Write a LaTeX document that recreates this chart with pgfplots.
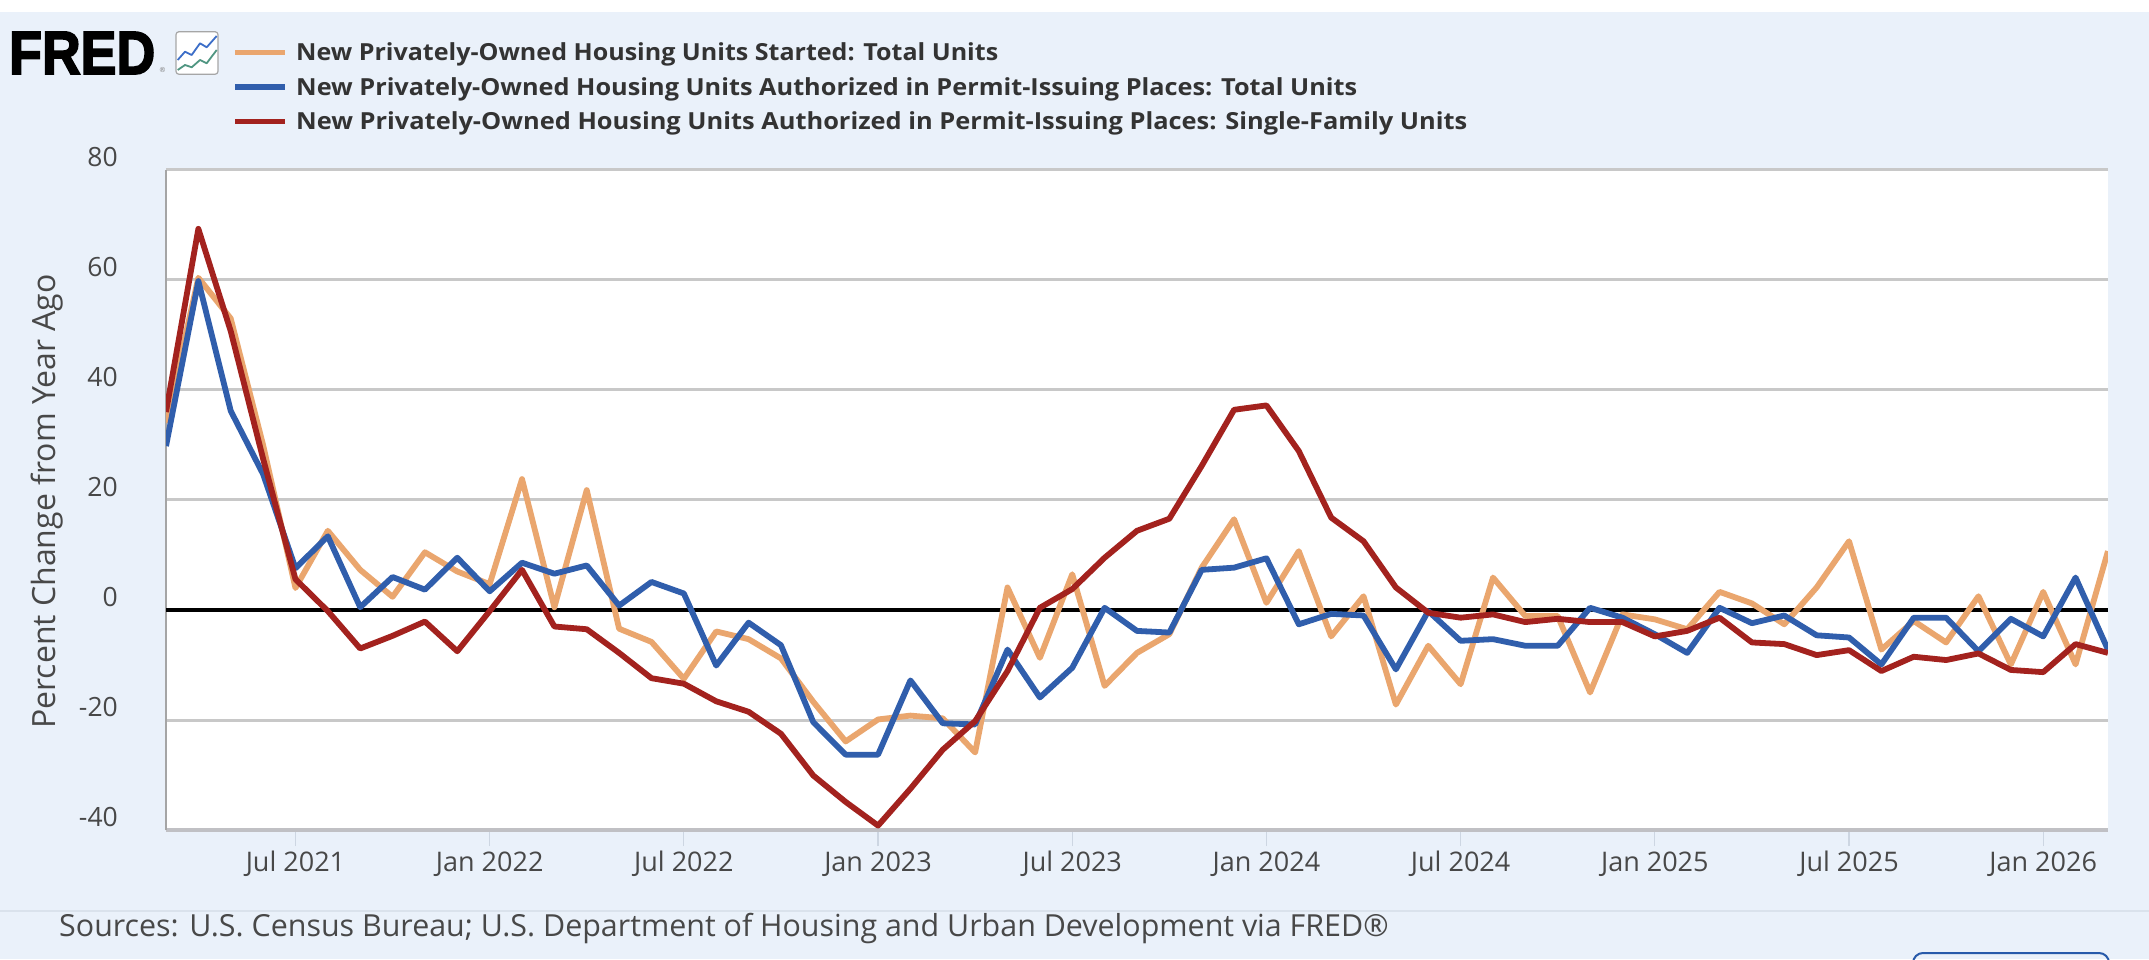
\documentclass[border=0pt]{standalone}
\usepackage{fontspec}
\setmainfont{Open Sans}
\newfontfamily\fredfont{Liberation Sans}[UprightFeatures={FakeBold=3},BoldFeatures={FakeBold=3}]
\usepackage{graphicx}
\usepackage{pgfplots}
\usepackage{pgfplotstable}
\pgfplotsset{compat=1.18}

\definecolor{bgblue}{RGB}{234,241,250}
\definecolor{sepcol}{RGB}{218,226,236}
\definecolor{gridgray}{RGB}{200,200,200}
\definecolor{axgray}{RGB}{192,192,196}
\definecolor{leftgray}{RGB}{165,165,165}
\definecolor{tickcol}{RGB}{205,214,226}
\definecolor{labcol}{RGB}{72,72,72}
\definecolor{legcol}{RGB}{51,51,51}
\definecolor{cstarts}{RGB}{234,166,110}
\definecolor{cpermits}{RGB}{48,94,172}
\definecolor{csingle}{RGB}{163,34,30}
\definecolor{iconblue}{RGB}{60,110,200}
\definecolor{icongreen}{RGB}{80,150,130}
\definecolor{btnblue}{RGB}{40,90,170}

% month index: 0 = Mar 2021 ... 60 = Mar 2026
\pgfplotstableread{
m starts permits single
0 34.0 29.8 36.0
1 60.4 59.8 69.3
2 53.0 36.2 50.7
3 30.0 24.7 27.5
4 4.0 7.6 5.6
5 14.4 13.4 -0.2
6 7.3 0.5 -7.0
7 2.4 6.0 -4.7
8 10.5 3.7 -2.1
9 7.0 9.5 -7.5
10 4.7 3.4 -0.2
11 23.8 8.6 7.3
12 0.5 6.6 -3.0
13 21.8 8.1 -3.5
14 -3.4 0.8 -7.8
15 -5.8 5.1 -12.4
16 -12.5 3.0 -13.4
17 -3.9 -10.1 -16.6
18 -5.3 -2.3 -18.5
19 -8.8 -6.4 -22.5
20 -16.7 -20.4 -30.1
21 -23.9 -26.3 -34.9
22 -19.9 -26.3 -39.2
23 -19.2 -12.8 -32.5
24 -19.7 -20.6 -25.4
25 -25.9 -20.8 -20.2
26 4.1 -7.2 -11.1
27 -8.7 -15.9 0.4
28 6.5 -10.5 3.8
29 -13.8 0.4 9.5
30 -7.8 -3.8 14.4
31 -4.4 -4.1 16.6
32 7.7 7.3 26.2
33 16.5 7.7 36.4
34 1.3 9.4 37.2
35 10.7 -2.6 28.9
36 -4.8 -0.7 16.8
37 2.5 -1.0 12.5
38 -17.2 -10.8 4.1
39 -6.5 -0.2 -0.5
40 -13.5 -5.6 -1.4
41 5.9 -5.3 -0.8
42 -1.1 -6.5 -2.2
43 -1.1 -6.5 -1.6
44 -15.0 0.4 -2.2
45 -0.8 -1.4 -2.2
46 -1.7 -4.4 -4.8
47 -3.5 -7.8 -3.8
48 3.3 0.4 -1.4
49 1.2 -2.4 -5.9
50 -2.6 -1.0 -6.2
51 4.1 -4.6 -8.2
52 12.5 -5.0 -7.3
53 -7.2 -9.9 -11.1
54 -2.0 -1.4 -8.5
55 -5.9 -1.4 -9.1
56 2.5 -7.5 -7.9
57 -9.9 -1.6 -10.9
58 3.3 -4.8 -11.3
59 -9.9 5.9 -6.2
60 10.7 -7.2 -7.8
}\housing

\begin{document}
\begin{tikzpicture}[x=1pt,y=1pt]
% background
\fill[bgblue] (0,0) rectangle (2149,947);
\fill[white] (0,947) rectangle (2149,959);
\draw[sepcol, line width=1.5pt] (0,48) -- (2149,48);
% bottom-right button (partially visible)
\draw[btnblue, line width=2pt, rounded corners=10pt] (1913,-30) rectangle (2109,6);

% FRED logo
\node[anchor=base west, inner sep=0pt, text=black] at (9,885)
  {\resizebox{146pt}{42pt}{\fredfont\bfseries FRED}};
\node[anchor=center, inner sep=0pt, text=gray] at (162.5,889)
  {\fontsize{7}{7}\selectfont ®};
% icon
\draw[rounded corners=3pt, fill=white, draw=gray!70, line width=1.2pt] (176,884.7) rectangle (218,927.3);
\draw[iconblue, line width=1.8pt, line join=round] (177.7,899) -- (185,907.3) -- (191.7,904) -- (200,915.7) -- (206.7,911.7) -- (216.7,923);
\draw[icongreen, line width=1.8pt, line join=round] (177.7,889) -- (185,894) -- (191.7,891.7) -- (200,899) -- (206.7,895.7) -- (216.7,909);

\begin{axis}[
  at={(166pt,129pt)}, anchor=south west,
  scale only axis, width=1942pt, height=660pt,
  xmin=0, xmax=60, ymin=-40, ymax=80,
  axis background/.style={fill=white},
  axis x line*=bottom, axis y line*=left,
  x axis line style={draw=axgray, line width=3.5pt},
  y axis line style={draw=leftgray, line width=2pt},
  xtick={4,10,16,22,28,34,40,46,52,58},
  xticklabels={Jul 2021,Jan 2022,Jul 2022,Jan 2023,Jul 2023,Jan 2024,Jul 2024,Jan 2025,Jul 2025,Jan 2026},
  ytick={-40,-20,0,20,40,60,80},
  yticklabels={-40,-20,0,20,40,60,80},
  tick align=outside, major tick length=16pt,
  xtick style={draw=tickcol, line width=1.2pt},
  ytick style={draw=none},
  ymajorgrids, y grid style={draw=gridgray, line width=3pt},
  xticklabel style={font=\fontsize{27}{30}\selectfont, text=labcol, anchor=base, inner sep=0pt, yshift=-25pt},
  yticklabel style={font=\fontsize{26.5}{30}\selectfont, text=labcol, anchor=base east, inner sep=0pt, xshift=-32pt, yshift=3.5pt},
  clip=true,
]
\addplot[black, line width=4.3pt, forget plot] coordinates {(0,0) (60,0)};
\addplot[cstarts, line width=5.8pt, line join=round] table[x=m, y=starts] {\housing};
\addplot[cpermits, line width=5.8pt, line join=round] table[x=m, y=permits] {\housing};
\addplot[csingle, line width=5.8pt, line join=round] table[x=m, y=single] {\housing};
\end{axis}

% y-axis title
\node[rotate=90, inner sep=0pt, text=labcol, font=\fontsize{32}{34}\selectfont] at (47,457.5) {Percent Change from Year Ago};

% legend
\draw[cstarts, line width=5.7pt] (235,906.5) -- (285,906.5);
\draw[cpermits, line width=5.7pt] (235,872) -- (285,872);
\draw[csingle, line width=5.7pt] (235,837.5) -- (285,837.5);
\node[anchor=base west, inner sep=0pt, text=legcol] at (296,898.3)
  {\resizebox{702pt}{\height}{\bfseries\fontsize{23.5}{26}\selectfont New Privately-Owned Housing Units Started: Total Units}};
\node[anchor=base west, inner sep=0pt, text=legcol] at (296,863.8)
  {\resizebox{1061pt}{\height}{\bfseries\fontsize{23.5}{26}\selectfont New Privately-Owned Housing Units Authorized in Permit-Issuing Places: Total Units}};
\node[anchor=base west, inner sep=0pt, text=legcol] at (296,829.3)
  {\resizebox{1171pt}{\height}{\bfseries\fontsize{23.5}{26}\selectfont New Privately-Owned Housing Units Authorized in Permit-Issuing Places: Single-Family Units}};

% source
\node[anchor=base west, inner sep=0pt, text=labcol, font=\fontsize{30.4}{32}\selectfont] at (59,23) {Sources: U.S. Census Bureau; U.S. Department of Housing and Urban Development via FRED®};

\pgfresetboundingbox
\path[use as bounding box] (0,0) rectangle (2149,959);
\end{tikzpicture}
\end{document}
